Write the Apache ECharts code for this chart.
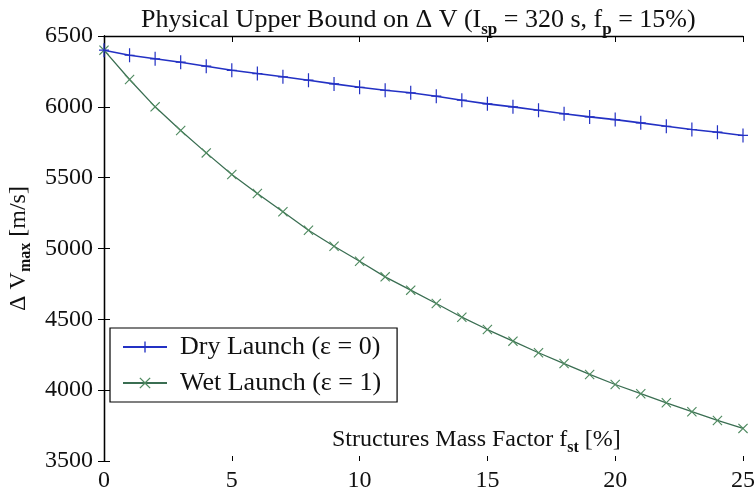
<!DOCTYPE html>
<html>
<head>
<meta charset="utf-8">
<script src="https://cdn.jsdelivr.net/npm/echarts@6/dist/echarts.min.js"></script>
<style>html,body{margin:0;padding:0;background:#fff;}#c{width:755px;height:499px;}</style>
</head>
<body>
<div id="c"></div>
<script>
var fst = [0,1,2,3,4,5,6,7,8,9,10,11,12,13,14,15,16,17,18,19,20,21,22,23,24,25];
var dryLaunch = [6400,6364,6339,6315,6287,6258,6235,6212,6188,6162,6138,6117,6099,6075,6047,6021,6000,5976,5951,5929,5910,5887,5863,5840,5821,5798];
var wetLaunch = [6400,6193,6000,5833,5675,5522,5388,5259,5129,5016,4910,4800,4706,4612,4515,4428,4346,4264,4188,4111,4040,3975,3911,3848,3786,3730];
var seriesNames = ['Dry Launch (\u03b5 = 0)', 'Wet Launch (\u03b5 = 1)'];
var xTicks = {min: 0, max: 25, interval: 5};
var yTicks = {min: 3500, max: 6500, interval: 500};

var FONT = '"Liberation Serif", "DejaVu Serif", serif';
var plusPath = 'path://M4.4,0 H5.6 V6.4 H10 V7.6 H5.6 V14 H4.4 V7.6 H0 V6.4 H4.4 Z';
var xPath = 'path://M0,0.8 L0.8,0 L5,4.2 L9.2,0 L10,0.8 L5.8,5 L10,9.2 L9.2,10 L5,5.8 L0.8,10 L0,9.2 L4.2,5 Z';

function pairs(xs, ys) { return xs.map(function (x, i) { return [x, ys[i]]; }); }

var chart = echarts.init(document.getElementById('c'), null, {renderer: 'canvas'});
var axisLineStyle = {color: '#000', width: 1.3};
chart.setOption({
  animation: false,
  backgroundColor: '#fff',
  title: [{
    left: 136, top: -2,
    text: '{a|Physical Upper Bound on \u0394 V (I}{s|sp}{a| = 320 s, f}{s|p}{a| = 15%)}',
    textStyle: {
      fontWeight: 'normal',
      rich: {
        a: {fontFamily: FONT, fontSize: 26, fontWeight: 'normal', color: '#111', lineHeight: 34},
        s: {fontFamily: FONT, fontSize: 17, fontWeight: 'bold', color: '#111', lineHeight: 14, padding: [20, 0, 0, 0]}
      }
    }
  }, {
    left: 327, top: 420,
    text: '{a|Structures Mass Factor f}{s|st}{a| [%]}',
    textStyle: {
      fontWeight: 'normal',
      rich: {
        a: {fontFamily: FONT, fontSize: 24, fontWeight: 'normal', color: '#111', lineHeight: 30},
        s: {fontFamily: FONT, fontSize: 16, fontWeight: 'bold', color: '#111', lineHeight: 14, padding: [15, 0, 0, 0]}
      }
    }
  }],
  legend: {
    orient: 'vertical', left: 110, top: 328,
    borderColor: '#000', borderWidth: 1.2,
    padding: [6, 16, 6, 12], itemGap: 10,
    itemWidth: 44, itemHeight: 14,
    textStyle: {fontFamily: FONT, fontSize: 26, color: '#111', padding: [0, 0, 0, 8]},
    data: seriesNames
  },
  grid: {left: 104, right: 12, top: 36, bottom: 38, outerBoundsMode: 'none', containLabel: false},
  xAxis: [{
    type: 'value', position: 'bottom', min: xTicks.min, max: xTicks.max, interval: xTicks.interval,
    axisLine: {show: false},
    axisTick: {show: true, inside: true, length: 5, lineStyle: {color: '#000', width: 1}},
    axisLabel: {fontFamily: FONT, fontSize: 24, color: '#111', margin: 8},
    splitLine: {show: false}
  }, {
    type: 'value', position: 'top', min: xTicks.min, max: xTicks.max, interval: xTicks.interval,
    axisLine: {show: true, lineStyle: axisLineStyle},
    axisTick: {show: true, inside: true, length: 6, lineStyle: {color: '#000', width: 1}},
    axisLabel: {show: false}, splitLine: {show: false}
  }],
  yAxis: [{
    type: 'value', position: 'left', min: yTicks.min, max: yTicks.max, interval: yTicks.interval,
    axisLine: {show: true, lineStyle: axisLineStyle},
    axisTick: {show: true, inside: true, length: 6, lineStyle: {color: '#000', width: 1}},
    axisLabel: {fontFamily: FONT, fontSize: 24, color: '#111', margin: 11, formatter: function (v) { return String(v); }},
    splitLine: {show: false},
    name: '{a|\u0394 V}{s|max}{a| [m/s]}',
    nameLocation: 'middle', nameRotate: 90, nameGap: 65,
    nameTextStyle: {
      rich: {
        a: {fontFamily: FONT, fontSize: 24, color: '#111', lineHeight: 30},
        s: {fontFamily: FONT, fontSize: 16, fontWeight: 'bold', color: '#111', lineHeight: 14, padding: [14, 0, 0, 0]}
      }
    }
  }, {
    type: 'value', position: 'right', min: yTicks.min, max: yTicks.max, interval: yTicks.interval,
    axisLine: {show: true, lineStyle: axisLineStyle},
    axisTick: {show: true, inside: true, length: 6, lineStyle: {color: '#000', width: 1}},
    axisLabel: {show: false}, splitLine: {show: false}
  }],
  series: [{
    name: seriesNames[0], type: 'line', xAxisIndex: 0, yAxisIndex: 0,
    data: pairs(fst, dryLaunch),
    symbol: plusPath, symbolSize: [10, 14], symbolKeepAspect: false,
    showAllSymbol: true,
    lineStyle: {color: '#2331c4', width: 1.6},
    itemStyle: {color: '#2331c4'},
    z: 3
  }, {
    name: seriesNames[1], type: 'line', xAxisIndex: 0, yAxisIndex: 0,
    data: pairs(fst, wetLaunch),
    symbol: xPath, symbolSize: 10,
    showAllSymbol: true,
    lineStyle: {color: '#3a6e52', width: 1.3},
    itemStyle: {color: '#4f8a60'},
    z: 2
  }]
});
</script>
</body>
</html>
